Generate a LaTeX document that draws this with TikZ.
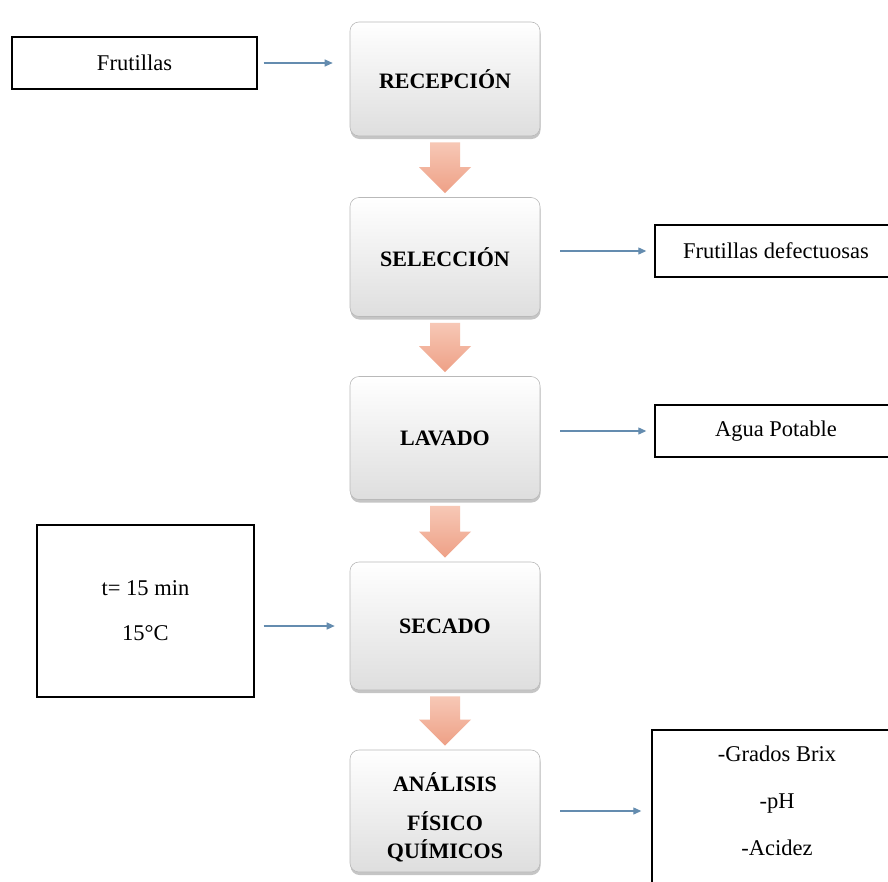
\documentclass[tikz,border=0pt]{standalone}
\usepackage{fontspec}
\setmainfont{Liberation Serif}
\usetikzlibrary{arrows.meta,shadows,calc}
\definecolor{connblue}{RGB}{100,140,175}
\definecolor{boxedge}{RGB}{185,185,185}
\definecolor{boxlow}{RGB}{222,222,222}
\definecolor{salmonlight}{RGB}{247,200,182}
\definecolor{salmondark}{RGB}{238,160,134}
\tikzset{
  stage/.style={draw=boxedge, line width=0.6pt, rounded corners=9pt,
    top color=white, middle color=white, bottom color=boxlow,
    drop shadow={shadow xshift=0.5pt, shadow yshift=-3pt, opacity=0.45},
    minimum width=190pt, font=\fontsize{22}{26}\selectfont\bfseries,
    align=center, inner sep=0pt},
  sidebox/.style={draw=black, line width=1.4pt, fill=white,
    font=\fontsize{22.5}{26}\selectfont, align=center, inner sep=0pt},
  plaintext/.style={font=\fontsize{22.5}{26}\selectfont, align=center, inner sep=0pt},
  conn/.style={draw=connblue, line width=1.2pt, -{Triangle[length=8pt,width=7pt]}},
  flow/.style={top color=salmonlight, bottom color=salmondark, draw=none}
}
\begin{document}
\begin{tikzpicture}[x=1pt, y=-1pt]
  % page frame
  \clip (0,0) rectangle (888,881);
  \fill[white] (0,0) rectangle (888,881);

  % process stages
  \node[stage, minimum height=114pt] (rec) at (445,79)  {RECEPCIÓN};
  \node[stage, minimum height=119pt] (sel) at (445,257) {SELECCIÓN};
  \node[stage, minimum height=123pt] (lav) at (445,438) {LAVADO};
  \node[stage, minimum height=128pt] (sec) at (445,626) {\rule{0pt}{12pt}SECADO};
  \node[stage, minimum height=122pt] (ana) at (445,811) {\rule{0pt}{31pt}ANÁLISIS\\[13pt] FÍSICO\\[2pt] QUÍMICOS};

  % block arrows between stages
  \foreach \a/\b in {rec/sel,sel/lav,lav/sec,sec/ana}
    \path[flow] let \p1=(\a.south), \p2=(\b.north) in
      (\x1-15pt,\y1-6pt) -- (\x1+15pt,\y1-6pt) -- (\x1+15pt,\y2+30pt)
      -- (\x1+26pt,\y2+30pt) -- (\x1,\y2+4pt) -- (\x1-26pt,\y2+30pt)
      -- (\x1-15pt,\y2+30pt) -- cycle;

  % inputs and outputs
  \node[sidebox, minimum width=245pt, minimum height=52pt] (fru) at (134.5,63) {Frutillas};
  \node[sidebox, minimum width=242pt, minimum height=52pt] (def) at (776,251) {Frutillas defectuosas};
  \node[sidebox, minimum width=242pt, minimum height=52pt] (agua) at (776,431) {Agua Potable};
  \node[sidebox, minimum width=217pt, minimum height=172pt] (tcond) at (145.5,611) {t= 15 min\\[19pt] 15°C};
  \node[sidebox, minimum width=250pt, minimum height=154pt] (par) at (777,807) {};
  \node[plaintext] (parlist) at (777,801) {-Grados Brix\\[21pt] -pH\\[21pt] -Acidez};

  % connectors
  \draw[conn, shorten <=6pt, shorten >=17pt] (fru.east) -- (fru.east -| rec.west);
  \draw[conn, shorten <=20pt, shorten >=8pt] (def.west -| sel.east) -- (def.west);
  \draw[conn, shorten <=20pt, shorten >=8pt] (agua.west -| lav.east) -- (agua.west);
  \draw[conn, shorten <=9pt, shorten >=15pt] (sec.west -| tcond.east) -- (sec.west);
  \draw[conn, shorten <=20pt, shorten >=10pt] (ana.east) -- (ana.east -| par.west);
\end{tikzpicture}
\end{document}
